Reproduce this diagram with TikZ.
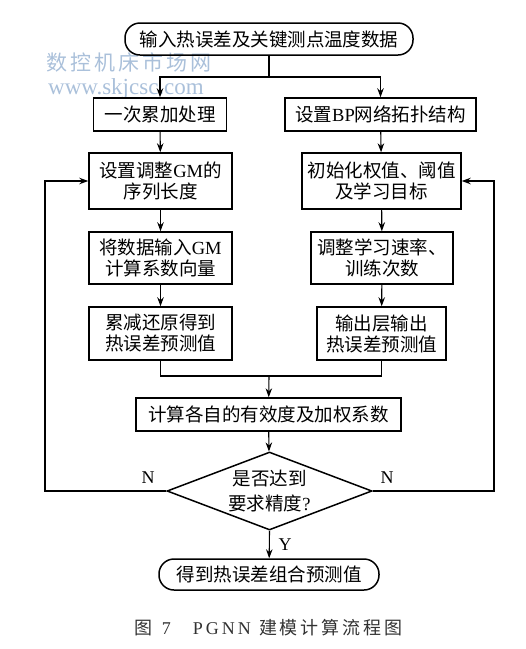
\documentclass[tikz,border=0pt]{standalone}
\usepackage{fontspec}
\setmainfont{Liberation Serif}
\newfontfamily\cjk{Noto Sans CJK SC}
\usetikzlibrary{shapes.geometric,arrows.meta}
\definecolor{wmark}{RGB}{170,192,218}
\definecolor{capgray}{RGB}{50,50,50}
\begin{document}
\begin{tikzpicture}[x=1pt,y=-1pt,
  box/.style={draw, line width=1.5pt, inner sep=0pt, align=center,
    font=\fontsize{18.5}{21}\selectfont\cjk},
  term/.style={box, rounded corners=15pt},
  arr/.style={-{Stealth[length=9pt,width=6.5pt]}, line width=1.1pt},
  plain/.style={line width=1.1pt},
  lbl/.style={font=\fontsize{18}{20}\selectfont, inner sep=0pt}]
\useasboundingbox (0,0) rectangle (526,649);
% watermark
\node[text=wmark, font=\fontsize{21}{24}\selectfont\cjk, inner sep=0pt] (wm1) at (129,62)
  {数\hspace{3pt}控\hspace{3pt}机\hspace{3pt}床\hspace{3pt}市\hspace{3pt}场\hspace{3pt}网};
\node[text=wmark, font=\fontsize{23}{25}\selectfont, inner sep=0pt] (wm2) at (126,89) {www.skjcsc.com};
% nodes
\node[term, minimum width=288pt, minimum height=32pt] (start) at (269,39) {输入热误差及关键测点温度数据};
\node[box, minimum width=133pt, minimum height=33pt] (a1) at (160,114.5) {一次累加处理};
\node[box, minimum width=191pt, minimum height=33pt] (b1) at (380.5,114.5) {设置{\rmfamily BP}网络拓扑结构};
\node[box, minimum width=143pt, minimum height=56pt] (a2) at (160.5,181) {设置调整{\rmfamily GM}的\\序列长度};
\node[box, minimum width=143pt, minimum height=52pt] (a3) at (160.5,258) {将数据输入{\rmfamily GM}\\计算系数向量};
\node[box, minimum width=143pt, minimum height=53pt] (a4) at (160.5,333.5) {累减还原得到\\热误差预测值};
\node[box, minimum width=159pt, minimum height=56pt] (b2) at (381.5,181) {初始化权值、阈值\\及学习目标};
\node[box, minimum width=142pt, minimum height=52pt] (b3) at (382,258) {调整学习速率、\\训练次数};
\node[box, minimum width=129pt, minimum height=53pt] (b4) at (381.5,333.5) {输出层输出\\热误差预测值};
\node[box, minimum width=265pt, minimum height=33pt] (c) at (268.5,414.5) {计算各自的有效度及加权系数};
\node[draw, diamond, line width=1.5pt, minimum width=205pt, minimum height=78pt, inner sep=0pt, aspect=2.63] (d) at (269.5,491) {};
\node[align=center, font=\fontsize{18.5}{25}\selectfont\cjk, inner sep=0pt] (dt) at (d) {是否达到\\要求精度{\rmfamily ?}};
\node[term, minimum width=220pt, minimum height=31pt] (e) at (269,574.5) {得到热误差组合预测值};
% coordinates
\coordinate (split) at (269,77);
\coordinate (m) at (269,376);
\coordinate (lf) at (45,491);
\coordinate (rf) at (494,491);
% connectors
\draw[plain] (start.south) -- (split);
\draw[arr] (split) -| (a1);
\draw[arr] (split) -| (b1);
\draw[arr] (a1) -- (a2);
\draw[arr] (a2) -- (a3);
\draw[arr] (a3) -- (a4);
\draw[arr] (b1) -- (b2);
\draw[arr] (b2) -- (b3);
\draw[arr] (b3) -- (b4);
\draw[plain] (a4.south) |- (m);
\draw[plain] (b4.south) |- (m);
\draw[arr] (m) -- (c);
\draw[arr] (c) -- (d);
\draw[arr] (d.west) -- (lf) |- (a2.west);
\draw[arr] (d.east) -- (rf) |- (b2.east);
\draw[arr] (d.south) -- (e);
% labels
\node[lbl] (nl) at (148,478) {N};
\node[lbl] (nr) at (387,478) {N};
\node[lbl] (yl) at (285,545) {Y};
% caption
\node[text=capgray, font=\fontsize{18}{20}\selectfont, inner sep=0pt] (cap) at (269,628)
  {{\cjk 图}\hspace{9pt}7\hspace{22pt}P\hspace{3pt}G\hspace{3pt}N\hspace{3pt}N\hspace{8pt}{\cjk 建\hspace{3pt}模\hspace{3pt}计\hspace{3pt}算\hspace{3pt}流\hspace{3pt}程\hspace{3pt}图}};
\end{tikzpicture}
\end{document}
